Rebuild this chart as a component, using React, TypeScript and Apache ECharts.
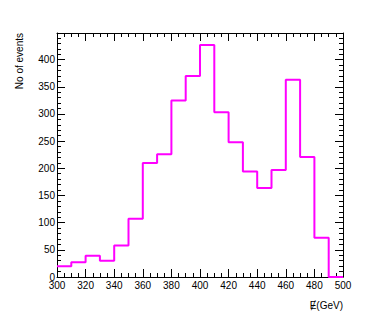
import React, { useEffect, useRef } from "react";
import * as echarts from "echarts";

// bin left edges (GeV)
const binLefts = [300, 310, 320, 330, 340, 350, 360, 370, 380, 390, 400, 410, 420, 430, 440, 450, 460, 470, 480, 490];
const binRightEnd = 500;
// events per bin
const counts = [20, 27, 39, 30, 58, 107, 210, 226, 325, 370, 427, 303, 248, 194, 164, 197, 363, 221, 72, 0];
const xTitle = "\u0246(GeV)";
const yTitle = "No of events";

export default function App() {
  const ref = useRef<HTMLDivElement>(null);
  useEffect(() => {
    if (!ref.current) return;
    const chart = echarts.init(ref.current, undefined, { renderer: "svg" });
    const data: number[][] = binLefts.map((x, i) => [x, counts[i]]);
    data.push([binRightEnd, counts[counts.length - 1]]);
    const font = "'Liberation Sans', Arial, Helvetica, 'DejaVu Sans', sans-serif";
    const lineStyle = { color: "#000", width: 1 };
    chart.setOption({
      animation: false,
      backgroundColor: "#fff",
      grid: { left: 57, right: 39, top: 33, bottom: 50, containLabel: false },
      xAxis: [
        {
          type: "value", min: 300, max: 500, interval: 20, position: "bottom",
          axisLine: { show: true, onZero: false, lineStyle },
          axisTick: { show: true, inside: true, length: 8, lineStyle },
          minorTick: { show: true, splitNumber: 4, length: 4, lineStyle },
          splitLine: { show: false },
          axisLabel: { show: true, color: "#000", fontSize: 10, fontFamily: font, margin: 3 },
        },
        {
          type: "value", min: 300, max: 500, interval: 20, position: "top",
          axisLine: { show: true, onZero: false, lineStyle },
          axisTick: { show: true, inside: true, length: 8, lineStyle },
          minorTick: { show: true, splitNumber: 4, length: 4, lineStyle },
          splitLine: { show: false },
          axisLabel: { show: false },
        },
      ],
      yAxis: [
        {
          type: "value", min: 0, max: 449, interval: 50, position: "left",
          axisLine: { show: true, onZero: false, lineStyle },
          axisTick: { show: true, inside: true, length: 8, lineStyle },
          minorTick: { show: true, splitNumber: 5, length: 4, lineStyle },
          splitLine: { show: false },
          axisLabel: { show: true, color: "#000", fontSize: 10, fontFamily: font, margin: 2, showMaxLabel: false },
        },
        {
          type: "value", min: 0, max: 449, interval: 50, position: "right",
          axisLine: { show: true, onZero: false, lineStyle },
          axisTick: { show: true, inside: true, length: 8, lineStyle },
          minorTick: { show: true, splitNumber: 5, length: 4, lineStyle },
          splitLine: { show: false },
          axisLabel: { show: false },
        },
      ],
      series: [
        {
          type: "line",
          step: "end",
          data,
          xAxisIndex: 0,
          yAxisIndex: 0,
          showSymbol: false,
          symbol: "none",
          lineStyle: { color: "#ff00ff", width: 2 },
          clip: false,
        },
      ],
      graphic: [
        {
          type: "text", x: 19, y: 33, rotation: Math.PI / 2,
          style: { text: yTitle, fill: "#000", fontSize: 10, fontFamily: font, align: "right", verticalAlign: "middle" },
        },
        {
          type: "text", x: 343, y: 305,
          style: { text: xTitle, fill: "#000", fontSize: 10, fontFamily: font, align: "right", verticalAlign: "middle" },
        },
      ],
    });
    return () => chart.dispose();
  }, []);
  return <div ref={ref} style={{ width: 382, height: 327, position: "absolute", left: 0, top: 0 }} />;
}
